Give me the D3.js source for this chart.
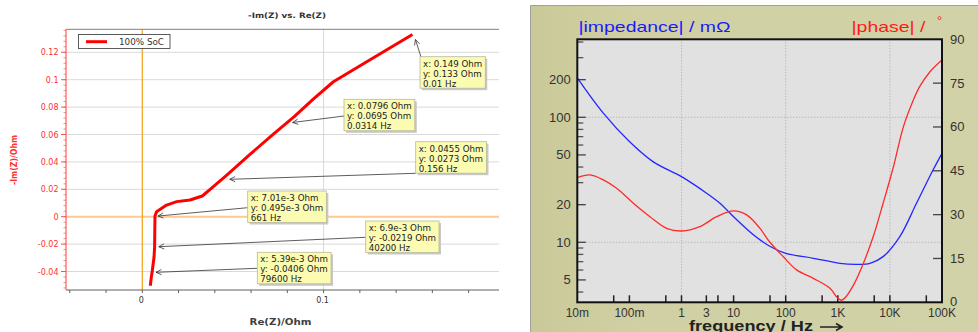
<!DOCTYPE html>
<html><head><meta charset="utf-8">
<script src="https://cdn.jsdelivr.net/npm/d3@7"></script>
<style>body{margin:0;background:#fff}svg{display:block}</style>
</head><body>
<svg id="c" width="978" height="332"></svg>
<script>
// ---------- Left chart data (Nyquist) ----------
const reZ = [0.0044, 0.0050, 0.0054, 0.0065, 0.0068, 0.0069, 0.0070, 0.0079, 0.0107, 0.0134, 0.0190, 0.0263, 0.0331, 0.0392, 0.0466, 0.0594, 0.0723, 0.0838, 0.0943, 0.1054, 0.1238, 0.1490];
const imZ = [-0.0504, -0.0440, -0.0406, -0.0292, -0.0219, -0.0100, 0.0005, 0.0037, 0.0061, 0.0085, 0.0110, 0.0122, 0.0151, 0.0219, 0.0304, 0.0455, 0.0603, 0.0730, 0.0858, 0.0985, 0.1131, 0.1330];
const seriesName = "100% SoC";
const yTickVals = [-0.04, -0.02, 0, 0.02, 0.04, 0.06, 0.08, 0.1, 0.12];
const yTickLabels = ["-0.04", "-0.02", "0", "0.02", "0.04", "0.06", "0.08", "0.1", "0.12"];
const xTickVals = [-0.04, -0.02, 0, 0.02, 0.04, 0.06, 0.08, 0.1, 0.12, 0.14, 0.16, 0.18];
const xLabelVals = [0, 0.1];
const xLabelText = ["0", "0.1"];
// callouts
const calloutX = [0.149, 0.0796, 0.0455, 7.01e-3, 6.9e-3, 5.39e-3];
const calloutY = [0.133, 0.0695, 0.0273, 0.495e-3, -0.0219, -0.0406];
const calloutXText = ["0.149", "0.0796", "0.0455", "7.01e-3", "6.9e-3", "5.39e-3"];
const calloutYText = ["0.133", "0.0695", "0.0273", "0.495e-3", "-0.0219", "-0.0406"];
const calloutF = ["0.01 Hz", "0.0314 Hz", "0.156 Hz", "661 Hz", "40200 Hz", "79600 Hz"];
// callout layout (pixels)
const calloutBox = [[420, 56.7], [344, 99.3], [415.7, 141.7], [247.7, 191], [365.7, 221], [257.3, 252.3]];
const calloutFrom = [[421, 57], [344, 116], [415.7, 173.3], [247.7, 207.7], [365.7, 237.3], [257.3, 268.3]];
const calloutTipOff = [[3, 5], [6, 1], [5, 0], [3, 0], [4, 0], [4, 0]];

// ---------- Right chart data (Bode) ----------
const fZ = [0.01, 0.0316, 0.1, 0.288, 1, 3.03, 5.47, 10, 23.9, 48.4, 100, 339, 1100, 2290, 4140, 7410, 15500, 32400, 67600, 100000];
const absZ = [207, 108, 64, 44, 33.5, 24.7, 20.5, 16, 11.5, 9.35, 8.17, 7.45, 6.79, 6.67, 6.79, 7.68, 11.1, 20.5, 38, 51.5];
const fP = [0.01, 0.0175, 0.0316, 0.0569, 0.119, 0.248, 0.519, 1, 2.26, 4.72, 10, 17.8, 32.1, 48.4, 90, 162, 339, 708, 977, 1170, 1350, 2000, 3090, 4790, 7410, 11700, 18200, 28200, 37200, 58900, 100000];
const phase = [42.7, 43.6, 41.9, 39.0, 33.9, 29.3, 25.3, 24.4, 25.9, 29.3, 31.3, 29.9, 25.3, 20.8, 15.6, 11.1, 8.2, 4.8, 1.6, 0.7, 1.4, 5.9, 13.3, 22.5, 33.9, 46.4, 60.1, 69.2, 73.8, 78.9, 82.9];
const zTickLabelVals = [5, 10, 20, 50, 100, 200];
const zMinorVals = [4, 6, 7, 8, 9, 30, 40, 60, 70, 80, 90, 300, 400];
const pTickVals = [0, 15, 30, 45, 60, 75, 90];
const fTickVals = [0.05, 0.1, 0.5, 1, 3, 5, 10, 50, 100, 500, 1000, 5000, 10000, 50000];
const fLabelVals = [0.01, 0.1, 1, 3, 10, 100, 1000, 10000, 100000];
const fLabelText = ["10m", "100m", "1", "3", "10", "100", "1K", "10K", "100K"];
const fGridVals = [1, 100, 10000];
const zGridVals = [10, 100];

const svg = d3.select("#c");

// ================= LEFT CHART =================
const L = {l: 66, r: 499, t: 29.3, b: 290};
const x = d3.scaleLinear().domain([-0.04208, 0.19675]).range([L.l, L.r]);
const y = d3.scaleLinear().domain([-0.0535, 0.13679]).range([L.b, L.t]);
const gL = svg.append("g");
const lf = "'DejaVu Sans', Verdana, sans-serif";

gL.selectAll(".hg").data(yTickVals.filter(v => v !== 0)).join("line")
  .attr("x1", L.l).attr("x2", L.r).attr("y1", d => y(d)).attr("y2", d => y(d))
  .attr("stroke", "#d9d9d9").attr("stroke-width", 1);
gL.append("line").attr("x1", x(0.1)).attr("x2", x(0.1)).attr("y1", L.t).attr("y2", L.b)
  .attr("stroke", "#d9d9d9").attr("stroke-width", 1);
gL.append("line").attr("x1", L.l).attr("x2", L.r).attr("y1", y(0)).attr("y2", y(0))
  .attr("stroke", "#ffc98f").attr("stroke-width", 2);
gL.append("line").attr("x1", x(0)).attr("x2", x(0)).attr("y1", L.t).attr("y2", L.b)
  .attr("stroke", "#f5a623").attr("stroke-width", 1.3);
gL.append("line").attr("x1", L.l).attr("x2", L.r).attr("y1", L.t).attr("y2", L.t).attr("stroke", "#808080");
gL.append("line").attr("x1", L.l).attr("x2", L.r).attr("y1", L.b).attr("y2", L.b).attr("stroke", "#606060");
gL.selectAll(".xt").data(xTickVals).join("line")
  .attr("x1", d => x(d)).attr("x2", d => x(d)).attr("y1", L.b).attr("y2", L.b + 3)
  .attr("stroke", "#606060");
gL.selectAll(".xl").data(xLabelVals).join("text")
  .attr("x", d => x(d) - 1).attr("y", 302.5).attr("text-anchor", "middle")
  .attr("font-family", lf).attr("font-size", 8).attr("fill", "#333")
  .text((d, i) => xLabelText[i]);
gL.append("line").attr("x1", L.l).attr("x2", L.l).attr("y1", L.t).attr("y2", L.b).attr("stroke", "#ff5a5a").attr("stroke-width", 1.2);
const yMinor = d3.range(-0.052, 0.1361, 0.004);
gL.selectAll(".ym").data(yMinor).join("line")
  .attr("x1", L.l - 2.5).attr("x2", L.l).attr("y1", d => y(d)).attr("y2", d => y(d))
  .attr("stroke", "#ff6a6a").attr("stroke-width", 0.8);
gL.selectAll(".yt").data(yTickVals).join("line")
  .attr("x1", L.l - 5).attr("x2", L.l).attr("y1", d => y(d)).attr("y2", d => y(d))
  .attr("stroke", "#ff5050").attr("stroke-width", 1);
gL.selectAll(".yl").data(yTickVals).join("text")
  .attr("x", 58.5).attr("y", d => y(d) + 3).attr("text-anchor", "end")
  .attr("font-family", lf).attr("font-size", 8).attr("fill", "#ff3030")
  .text((d, i) => yTickLabels[i]);
gL.append("text").attr("x", 287).attr("y", 18).attr("text-anchor", "middle")
  .attr("font-family", lf).attr("font-size", 7.5).attr("font-weight", "bold").attr("fill", "#333")
  .attr("textLength", 78).attr("lengthAdjust", "spacingAndGlyphs").text("-Im(Z) vs. Re(Z)");
gL.append("text").attr("transform", "translate(17,160) rotate(-90)").attr("text-anchor", "middle")
  .attr("font-family", lf).attr("font-size", 8).attr("font-weight", "bold").attr("fill", "#ff3030")
  .attr("textLength", 50).attr("lengthAdjust", "spacingAndGlyphs").text("-Im(Z)/Ohm");
gL.append("text").attr("x", 280.5).attr("y", 325).attr("text-anchor", "middle")
  .attr("font-family", lf).attr("font-size", 8).attr("font-weight", "bold").attr("fill", "#404040")
  .attr("textLength", 62).attr("lengthAdjust", "spacingAndGlyphs").text("Re(Z)/Ohm");
gL.append("rect").attr("x", 78.5).attr("y", 34.5).attr("width", 91.5).attr("height", 14)
  .attr("fill", "#fff").attr("stroke", "#333").attr("stroke-width", 0.8);
gL.append("line").attr("x1", 86).attr("x2", 107).attr("y1", 41.7).attr("y2", 41.7).attr("stroke", "#ff0000").attr("stroke-width", 3);
gL.append("text").attr("x", 119).attr("y", 44.8).attr("font-family", lf).attr("font-size", 8).attr("fill", "#333")
  .attr("textLength", 45).attr("lengthAdjust", "spacingAndGlyphs").text(seriesName);
const nyq = reZ.map((v, i) => [v, imZ[i]]);
gL.append("path").datum(nyq)
  .attr("d", d3.line().x(d => x(d[0])).y(d => y(d[1])).curve(d3.curveLinear))
  .attr("fill", "none").attr("stroke", "#ff0000").attr("stroke-width", 3).attr("stroke-linejoin", "round");

calloutX.forEach((vx, i) => {
  const tipX = x(vx) + calloutTipOff[i][0], tipY = y(calloutY[i]) + calloutTipOff[i][1];
  const [fx, fy] = calloutFrom[i];
  gL.append("line").attr("x1", fx).attr("y1", fy).attr("x2", tipX).attr("y2", tipY)
    .attr("stroke", "#333").attr("stroke-width", 0.8);
  const ang = Math.atan2(fy - tipY, fx - tipX);
  const a1 = ang + 0.45, a2 = ang - 0.45, len = 6;
  gL.append("path")
    .attr("d", `M${tipX + len * Math.cos(a1)},${tipY + len * Math.sin(a1)}L${tipX},${tipY}L${tipX + len * Math.cos(a2)},${tipY + len * Math.sin(a2)}`)
    .attr("fill", "none").attr("stroke", "#333").attr("stroke-width", 0.8);
  const [bx, by] = calloutBox[i];
  const lines = ["x: " + calloutXText[i] + " Ohm", "y: " + calloutYText[i] + " Ohm", calloutF[i]];
  const g = gL.append("g");
  const shadow = g.append("rect").attr("fill", "#c8c8c8");
  const box = g.append("rect").attr("fill", "#fbfbb2").attr("stroke", "#b8b8a0").attr("stroke-width", 0.8);
  let w = 0;
  lines.forEach((t, k) => {
    const tx = g.append("text").attr("x", bx + 3).attr("y", by + 9.8 + k * 10)
      .attr("font-family", lf).attr("font-size", 8.7).attr("fill", "#222").text(t);
    w = Math.max(w, tx.node().getComputedTextLength());
  });
  box.attr("x", bx).attr("y", by).attr("width", w + 6).attr("height", 31.5);
  shadow.attr("x", bx + 2).attr("y", by + 2).attr("width", w + 6).attr("height", 31.5);
});

// ================= RIGHT CHART =================
const R = {l: 577.3, r: 942, t: 39.3, b: 302.3};
const rf = "'Liberation Sans', Arial, sans-serif";
const defs = svg.append("defs");
const grad = defs.append("linearGradient").attr("id", "pg").attr("x1", 0).attr("x2", 1).attr("y1", 0).attr("y2", 0);
grad.append("stop").attr("offset", 0).attr("stop-color", "#c9c998");
grad.append("stop").attr("offset", 0.25).attr("stop-color", "#d0d0a4");
grad.append("stop").attr("offset", 1).attr("stop-color", "#d2d2a8");
const gR = svg.append("g");
gR.append("rect").attr("x", 530).attr("y", 5).attr("width", 448).attr("height", 327).attr("fill", "url(#pg)");
gR.append("path").attr("d", "M530.5,332V5.5H978").attr("fill", "none").attr("stroke", "#a0a0a0").attr("stroke-width", 1);

const fx = d3.scaleLog().domain([0.01, 100000]).range([R.l, R.r]);
const zy = d3.scaleLog().domain([3.311, 420.7]).range([R.b, R.t]);
const py = d3.scaleLinear().domain([0, 90]).range([R.b, R.t]);

gR.append("rect").attr("x", R.l).attr("y", R.t).attr("width", R.r - R.l).attr("height", R.b - R.t).attr("fill", "#e1e1e1");
gR.selectAll(".vg").data(fGridVals).join("line")
  .attr("x1", d => fx(d)).attr("x2", d => fx(d)).attr("y1", R.t).attr("y2", R.b)
  .attr("stroke", "#a8a8a8").attr("stroke-dasharray", "1,2");
gR.selectAll(".hg").data(zGridVals).join("line")
  .attr("x1", R.l).attr("x2", R.r).attr("y1", d => zy(d)).attr("y2", d => zy(d))
  .attr("stroke", "#a8a8a8").attr("stroke-dasharray", "1,2");
gR.selectAll(".zm").data(zMinorVals).join("line")
  .attr("x1", R.l).attr("x2", R.l + 6).attr("y1", d => zy(d)).attr("y2", d => zy(d))
  .attr("stroke", "#555").attr("stroke-width", 1.3);
gR.selectAll(".zt").data(zTickLabelVals).join("line")
  .attr("x1", R.l).attr("x2", R.l + 8.5).attr("y1", d => zy(d)).attr("y2", d => zy(d))
  .attr("stroke", "#444").attr("stroke-width", 1.3);
gR.selectAll(".zl").data(zTickLabelVals).join("text")
  .attr("x", 570.7).attr("y", d => zy(d) + 4.5).attr("text-anchor", "end")
  .attr("font-family", rf).attr("font-size", 13).attr("fill", "#333").text(d => d);
gR.selectAll(".pt").data(pTickVals.filter(v => v > 0 && v < 90)).join("line")
  .attr("x1", R.r - 9).attr("x2", R.r).attr("y1", d => py(d)).attr("y2", d => py(d))
  .attr("stroke", "#444").attr("stroke-width", 1.3);
gR.selectAll(".pl").data(pTickVals).join("text")
  .attr("x", 950).attr("y", d => py(d) + (d === 0 ? 3.5 : 4.5))
  .attr("font-family", rf).attr("font-size", 13).attr("fill", "#333").text(d => d);
gR.selectAll(".ft").data(fTickVals).join("line")
  .attr("x1", d => fx(d)).attr("x2", d => fx(d)).attr("y1", R.b).attr("y2", R.b - 7)
  .attr("stroke", "#222").attr("stroke-width", 1.5);
gR.selectAll(".fl").data(fLabelVals).join("text")
  .attr("x", d => fx(d)).attr("y", 316.5).attr("text-anchor", "middle")
  .attr("font-family", rf).attr("font-size", 12).attr("fill", "#333")
  .text((d, i) => fLabelText[i]);
const zLine = d3.line().x(d => fx(d[0])).y(d => zy(d[1])).curve(d3.curveCatmullRom);
gR.append("path").datum(fZ.map((f, i) => [f, absZ[i]])).attr("d", zLine)
  .attr("fill", "none").attr("stroke", "#2626ff").attr("stroke-width", 1.3);
const pLine = d3.line().x(d => fx(d[0])).y(d => py(d[1])).curve(d3.curveCatmullRom);
gR.append("path").datum(fP.map((f, i) => [f, phase[i]])).attr("d", pLine)
  .attr("fill", "none").attr("stroke", "#ff2a2a").attr("stroke-width", 1.3);
gR.append("rect").attr("x", R.l).attr("y", R.t).attr("width", R.r - R.l).attr("height", R.b - R.t)
  .attr("fill", "none").attr("stroke", "#111").attr("stroke-width", 2);
gR.append("text").attr("x", 578.5).attr("y", 31.5)
  .attr("font-family", rf).attr("font-size", 15).attr("fill", "#1a1aff")
  .attr("textLength", 152).attr("lengthAdjust", "spacingAndGlyphs").text("|impedance| / mΩ");
gR.append("text").attr("x", 851.5).attr("y", 31.5)
  .attr("font-family", rf).attr("font-size", 15).attr("fill", "#ff1a1a")
  .attr("textLength", 74).attr("lengthAdjust", "spacingAndGlyphs").text("|phase| /");
gR.append("text").attr("x", 937).attr("y", 25)
  .attr("font-family", rf).attr("font-size", 13).attr("fill", "#ff1a1a").text("°");
gR.append("text").attr("x", 689).attr("y", 331)
  .attr("font-family", rf).attr("font-size", 15).attr("font-weight", "bold").attr("fill", "#222")
  .attr("textLength", 124).attr("lengthAdjust", "spacingAndGlyphs").text("frequency / Hz");
gR.append("path").attr("d", "M820,327H842M836,323.5L842,327L836,330.5").attr("fill", "none")
  .attr("stroke", "#222").attr("stroke-width", 1.6);
</script>
</body></html>
